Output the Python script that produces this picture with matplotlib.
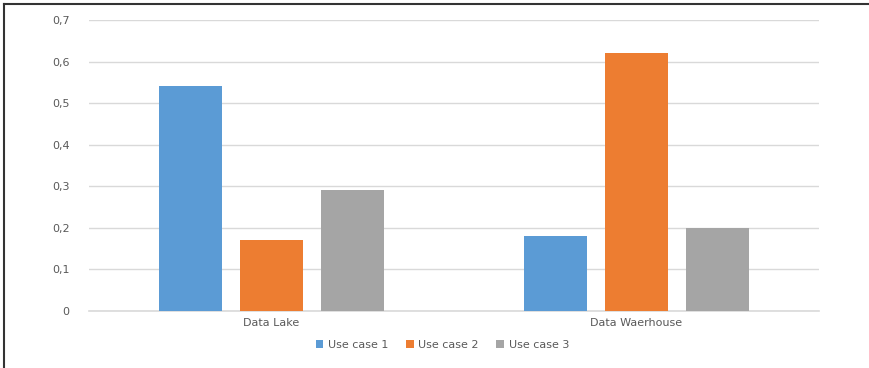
import matplotlib.pyplot as plt
import numpy as np
from matplotlib.lines import Line2D
from matplotlib.ticker import FuncFormatter

categories = ['Data Lake', 'Data Waerhouse']
series = ['Use case 1', 'Use case 2', 'Use case 3']
case1 = [0.54, 0.18]
case2 = [0.17, 0.62]
case3 = [0.29, 0.20]
colors = ['#5B9BD5', '#ED7D31', '#A5A5A5']

fig = plt.figure(figsize=(8.7, 3.68), dpi=100)
ax = fig.add_axes([0.1023, 0.1549, 0.8391, 0.7908])

x = np.arange(len(categories))
w = 0.173
step = 0.222
for i, (vals, name) in enumerate(zip([case1, case2, case3], series)):
    ax.bar(x + (i - 1) * step, vals, width=w, color=colors[i], label=name, zorder=3)

ax.set_xlim(-0.5, 1.5)
ax.set_ylim(0, 0.7)
ax.set_yticks(np.arange(0, 0.71, 0.1))
ax.yaxis.set_major_formatter(FuncFormatter(lambda v, p: '0' if v == 0 else ('%.1f' % v).replace('.', ',')))
ax.set_xticks(x)
ax.set_xticklabels(categories)
ax.grid(axis='y', color='#D9D9D9', linewidth=1, zorder=0)
ax.axhline(0, color='#D9D9D9', linewidth=1.2, zorder=2, clip_on=False)
for s in ax.spines.values():
    s.set_visible(False)
ax.tick_params(axis='both', length=0, labelsize=8, labelcolor='#595959')
ax.tick_params(axis='y', pad=14)
ax.tick_params(axis='x', pad=5)

ax.legend(loc='upper center', bbox_to_anchor=(0.484, -0.065), ncol=3, frameon=False,
          fontsize=8, labelcolor='#595959', handlelength=0.7, handleheight=0.7,
          handletextpad=0.4, columnspacing=1.6)

# frame lines on left and top of the picture
fig.add_artist(Line2D([4 / 870, 4 / 870], [0, 1 - 4 / 368], color='#333333', linewidth=1.5))
fig.add_artist(Line2D([4 / 870, 1], [1 - 4 / 368, 1 - 4 / 368], color='#333333', linewidth=1.5))

plt.savefig('out.png', dpi=100)
